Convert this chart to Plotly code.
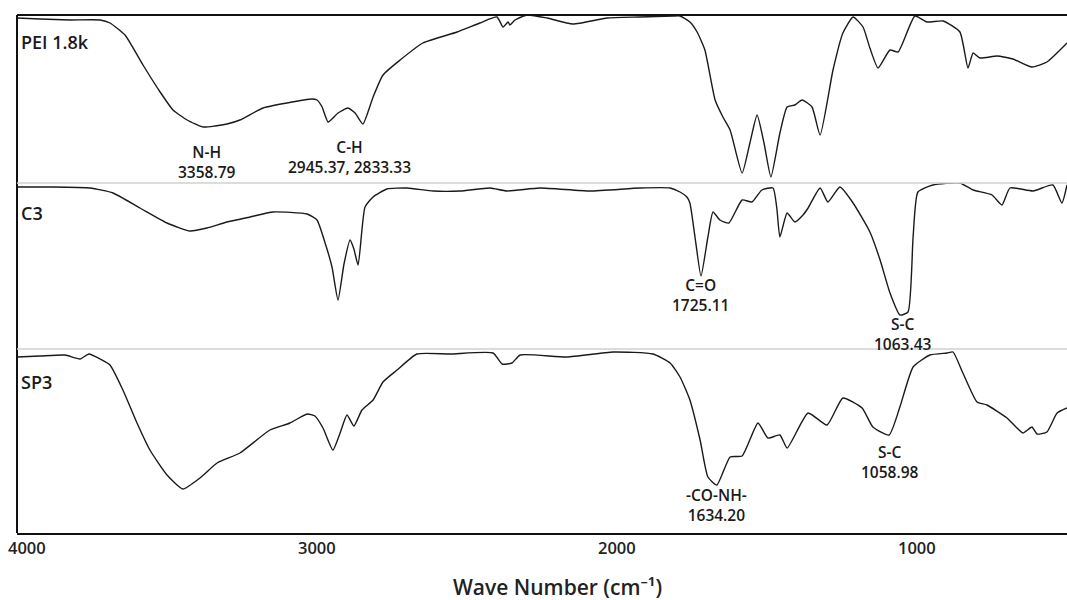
import plotly.graph_objects as go
from plotly.subplots import make_subplots

# ---------------- data ----------------
# PEI 1.8k spectrum: wavenumber (cm-1) and relative transmittance (a.u., panel units)
pei_wn = [4000, 3923, 3823, 3723, 3690, 3640, 3580, 3523, 3480, 3433, 3380, 3340, 3300, 3257,
          3180, 3100, 3017, 3000, 2983, 2963, 2930, 2897, 2873, 2847, 2813, 2780, 2723, 2647,
          2533, 2457, 2400, 2380, 2363, 2357, 2340, 2300, 2233, 2147, 2033, 1923, 1813, 1790,
          1757, 1733, 1707, 1673, 1647, 1623, 1583, 1557, 1533, 1510, 1487, 1457, 1433, 1407,
          1383, 1350, 1323, 1280, 1247, 1213, 1180, 1157, 1130, 1090, 1063, 1007, 967, 913,
          857, 830, 813, 790, 733, 680, 617, 567, 500]
pei_t = [165, 164, 163, 163, 160, 148, 118, 91, 73, 63, 56, 57, 59, 63,
         75, 80, 84, 83, 76, 61, 70, 75, 70, 59, 86, 108, 123, 140,
         151, 160, 166, 156, 161, 158, 163, 168, 165, 159, 165, 166, 167, 167,
         161, 151, 133, 83, 66, 53, 10, 40, 68, 40, 6, 50, 76, 78,
         83, 76, 48, 113, 150, 166, 156, 135, 115, 133, 131, 167, 161, 162,
         151, 115, 130, 125, 127, 124, 116, 121, 140]

# C3 spectrum
c3_wn = [4000, 3890, 3757, 3680, 3590, 3500, 3423, 3367, 3300, 3223, 3147, 3033, 3000, 2973,
         2950, 2930, 2910, 2890, 2877, 2863, 2840, 2813, 2767, 2700, 2613, 2523, 2423, 2367,
         2257, 2090, 1923, 1823, 1790, 1767, 1757, 1740, 1720, 1697, 1680, 1657, 1627, 1583,
         1550, 1517, 1480, 1467, 1457, 1433, 1407, 1380, 1363, 1323, 1297, 1257, 1213, 1157,
         1123, 1090, 1057, 1030, 1013, 997, 947, 857, 813, 750, 717, 690, 613, 547, 517, 500]
c3_t = [162, 162, 161, 156, 141, 126, 118, 121, 127, 132, 137, 135, 129, 106,
        82, 49, 85, 109, 100, 84, 142, 152, 160, 161, 158, 158, 161, 158,
        161, 158, 161, 161, 157, 152, 146, 112, 73, 112, 137, 129, 126, 149,
        147, 159, 161, 140, 112, 136, 127, 134, 141, 161, 147, 162, 146, 117,
        89, 56, 34, 37, 112, 157, 164, 166, 159, 154, 144, 161, 158, 164, 146, 164]

# SP3 spectrum
sp3_wn = [4000, 3923, 3840, 3790, 3760, 3723, 3690, 3647, 3600, 3557, 3500, 3447, 3390, 3333,
          3257, 3157, 3090, 3033, 3007, 2980, 2947, 2923, 2900, 2877, 2850, 2813, 2780, 2733,
          2667, 2557, 2413, 2383, 2350, 2323, 2167, 2013, 1880, 1823, 1790, 1757, 1723, 1697,
          1667, 1623, 1583, 1530, 1497, 1457, 1433, 1363, 1300, 1247, 1183, 1147, 1093, 1057,
          1013, 957, 900, 880, 847, 800, 767, 700, 647, 617, 600, 567, 533, 500]
sp3_t = [176, 177, 178, 174, 179, 174, 168, 143, 110, 83, 58, 44, 55, 70,
         80, 103, 110, 119, 117, 105, 83, 100, 118, 107, 123, 133, 151, 163,
         179, 179, 180, 169, 170, 178, 176, 181, 179, 170, 156, 133, 93, 56,
         48, 76, 77, 110, 95, 98, 85, 120, 108, 135, 125, 106, 98, 126,
         166, 178, 180, 181, 160, 131, 128, 115, 100, 106, 99, 101, 120, 125]

sample_names = ["PEI 1.8k", "C3", "SP3"]
panel_spans = [168, 166, 184]          # vertical extent of each panel (a.u.)

tick_values = [4000, 3000, 2000, 1000]
tick_labels = ["4000", "3000", "2000", "1000"]

peak_groups = ["N-H", "C-H", "C=O", "S-C", "-CO-NH-", "S-C"]
peak_numbers = ["3358.79", "2945.37, 2833.33", "1725.11", "1063.43", "1634.20", "1058.98"]
peak_label_wn = [3367, 2893, 1723, 1047, 1667, 1090]

x_title = "Wave Number (cm\u207b\u00b9)"

# ---------------- figure ----------------
W, H = 1067, 600
ML, MR, MT, MB = 17, 0, 15, 67
PH = H - MT - MB
FONT = "Open Sans, Noto Sans, sans-serif"


def py(pix):
    """pixel row -> paper y"""
    return (H - MB - pix) / PH


fig = make_subplots(rows=3, cols=1, shared_xaxes=True, vertical_spacing=0,
                    row_heights=panel_spans)

spectra = [(pei_wn, pei_t), (c3_wn, c3_t), (sp3_wn, sp3_t)]
for i, (wn, t) in enumerate(spectra):
    fig.add_trace(go.Scatter(x=wn, y=t, mode="lines", name=sample_names[i],
                             line=dict(color="#1a1a1a", width=1.4, shape="spline",
                                       smoothing=0.5),
                             showlegend=False, hoverinfo="skip"),
                  row=i + 1, col=1)
    fig.update_yaxes(range=[0, panel_spans[i]], visible=False, row=i + 1, col=1)

fig.update_xaxes(range=[4000, 500], showgrid=False, zeroline=False,
                 showticklabels=False, ticks="")
fig.update_xaxes(showline=True, linecolor="#111", linewidth=2, row=3, col=1)

shapes = []
# frame: top and left
shapes.append(dict(type="line", xref="paper", yref="paper", x0=0, x1=1, y0=1, y1=1,
                   line=dict(color="#111", width=2)))
shapes.append(dict(type="line", xref="paper", yref="paper", x0=0, x1=0, y0=0, y1=1,
                   line=dict(color="#111", width=2)))
# separators between panels
for pix in (183, 349):
    shapes.append(dict(type="line", xref="paper", yref="paper", x0=0, x1=1,
                       y0=py(pix), y1=py(pix), line=dict(color="#d0d0d0", width=1.5)))
fig.update_layout(shapes=shapes)

ann = []
# sample names
for name, pix in zip(sample_names, (42, 213, 382)):
    ann.append(dict(text=name, xref="paper", yref="paper", x=0, y=py(pix), xshift=2,
                    xanchor="left", yanchor="middle", showarrow=False,
                    font=dict(family=FONT, size=18, color="#1a1a1a", weight=600)))
# peak labels (group line + number line)
label_rows = [162, 157, 295, 334, 505, 462]
for g, n, xw, pr in zip(peak_groups, peak_numbers, peak_label_wn, label_rows):
    ann.append(dict(text=g + "<br>" + n, xref="x", yref="paper", x=xw, y=py(pr),
                    xanchor="center", yanchor="middle", showarrow=False, align="center",
                    font=dict(family=FONT, size=15.5, color="#1a1a1a", weight=600)))
# tick labels
for tv, tl in zip(tick_values, tick_labels):
    ann.append(dict(text=tl, xref="x", yref="paper", x=tv, y=py(547),
                    xshift=10 if tv == 4000 else 0, xanchor="center", yanchor="middle",
                    showarrow=False,
                    font=dict(family=FONT, size=16.5, color="#222", weight=600)))
# axis title
ann.append(dict(text=x_title, xref="paper", yref="paper", x=(557 - ML) / (W - ML - MR),
                y=py(587), xanchor="center", yanchor="middle", showarrow=False,
                font=dict(family=FONT, size=21, color="#222", weight=600)))
fig.update_layout(annotations=ann)

fig.update_layout(width=W, height=H, margin=dict(l=ML, r=MR, t=MT, b=MB),
                  plot_bgcolor="white", paper_bgcolor="white")

fig.write_html("out.html", config={"displayModeBar": False},
               post_script="document.body.style.margin='0';")
